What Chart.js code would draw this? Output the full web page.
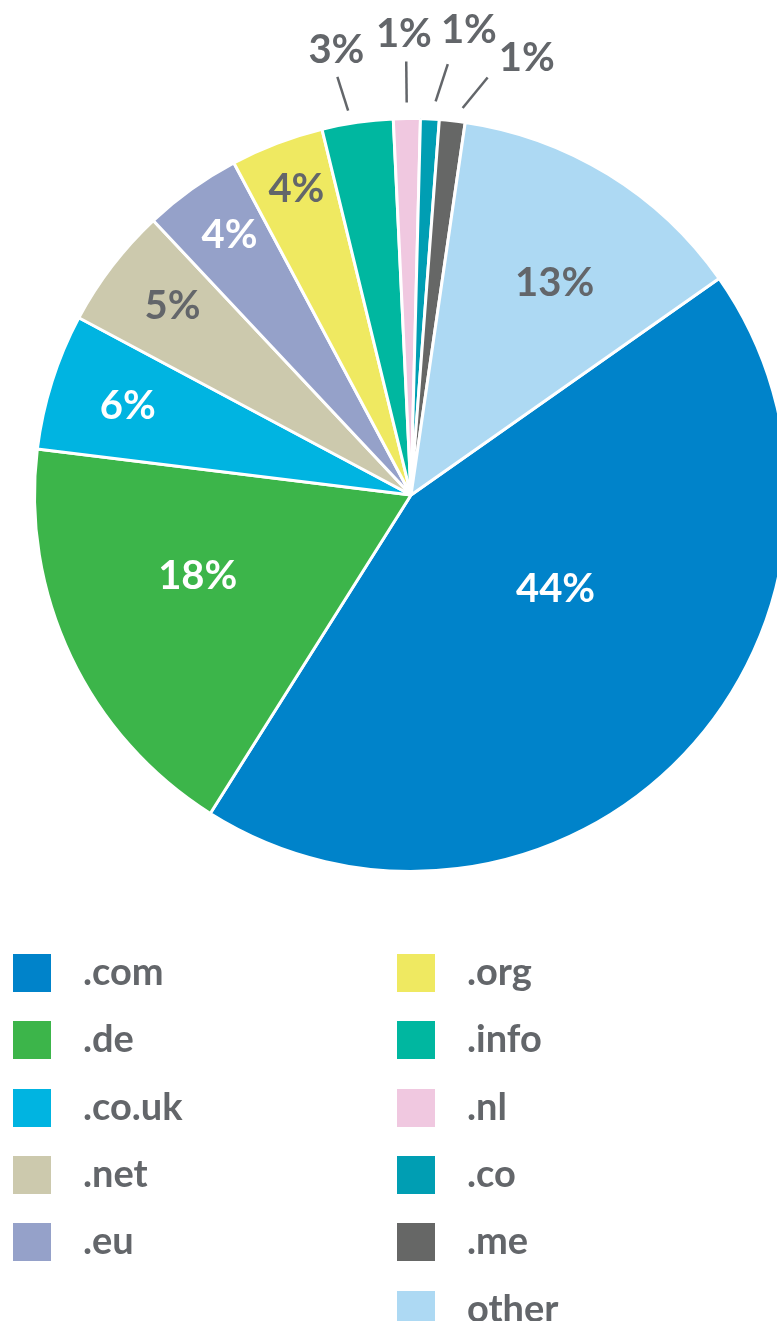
<!DOCTYPE html>
<html>
<head>
<meta charset="utf-8">
<script src="https://cdn.jsdelivr.net/npm/chart.js@4.4.1/dist/chart.umd.min.js"></script>
<style>
    html, body { margin: 0; padding: 0; background: #fff; width: 777px; height: 1321px; overflow: hidden; }
    #wrap { position: absolute; left: 0; top: 0; width: 822px; height: 990px; }
    #legend { position: absolute; left: 0; top: 0; width: 777px; height: 1321px; font-family: Lato, sans-serif; }
    .box { position: absolute; width: 38px; height: 38px; }
    .txt { position: absolute; font-size: 38px; font-weight: 700; color: #63666a; line-height: 38px; white-space: nowrap; }
</style>
</head>
<body>
<div id="wrap"><canvas id="chart"></canvas></div>
<div id="legend"></div>
<script>
const domains = ['.com', '.de', '.co.uk', '.net', '.eu', '.org', '.info', '.nl', '.co', '.me', 'other'];
// shares (labels show them rounded)
const shares = [43.7, 18.0, 5.85, 5.2, 4.2, 4.0, 3.05, 1.15, 0.8, 1.1, 12.95];
const colors = ['#0083ca', '#3cb54a', '#00b4e1', '#ccc9ad', '#95a1c9', '#efe961', '#00b7a0', '#f0c8e0', '#009eb3', '#666766', '#add9f3'];

const gray = '#63666a';

// where each percentage goes; "out" ones get a leader line
const placement = [
    { r: 0.456, da: -10.9, color: '#fff' },
    { r: 0.605, da: 4.8, color: '#fff' },
    { r: 0.79, da: 0.2, color: '#fff' },
    { r: 0.81, da: 1.1, color: gray },
    { r: 0.846, da: 0.9, color: '#fff' },
    { r: 0.87, da: 0.4, color: gray },
    { out: true, a1: -1.1, r1: 13, a2: -1.8, r2: 48, ta: -1.3, tr: 76 },
    { out: true, a1: 0, r1: 16, a2: 0, r2: 57, ta: -0.25, tr: 86 },
    { out: true, a1: 0.7, r1: 18, a2: 2, r2: 56, ta: 4.2, tr: 93 },
    { out: true, a1: 1.3, r1: 14, a2: 4.1, r2: 48, ta: 8.5, tr: 77 },
    { r: 0.684, da: 2.3, color: gray }
];

const sliceLabels = {
    id: 'sliceLabels',
    afterDatasetsDraw( chart, args, opts ){
        const ctx = chart.ctx;
        const meta = chart.getDatasetMeta( 0 );
        const rad = d => d * Math.PI / 180;
        ctx.save();
        ctx.font = `700 ${opts.size}px Lato, sans-serif`;
        ctx.textAlign = 'center';
        ctx.textBaseline = 'alphabetic';
        const shift = opts.size * 0.358;
        meta.data.forEach( function( arc, i ){
            const p = opts.place[i];
            const mid = ( arc.startAngle + arc.endAngle ) / 2;
            const R = arc.outerRadius;
            const text = Math.round( shares[i] ) + '%';
            if ( p.out ){
                const a1 = mid + rad( p.a1 ), a2 = mid + rad( p.a2 ), a3 = mid + rad( p.ta );
                ctx.strokeStyle = gray;
                ctx.lineWidth = 2.5;
                ctx.beginPath();
                ctx.moveTo( arc.x + Math.cos( a1 ) * ( R + p.r1 ), arc.y + Math.sin( a1 ) * ( R + p.r1 ) );
                ctx.lineTo( arc.x + Math.cos( a2 ) * ( R + p.r2 ), arc.y + Math.sin( a2 ) * ( R + p.r2 ) );
                ctx.stroke();
                ctx.fillStyle = gray;
                ctx.fillText( text, arc.x + Math.cos( a3 ) * ( R + p.tr ), arc.y + Math.sin( a3 ) * ( R + p.tr ) + shift );
            } else {
                const a = mid + rad( p.da );
                ctx.fillStyle = p.color;
                ctx.fillText( text, arc.x + Math.cos( a ) * R * p.r, arc.y + Math.sin( a ) * R * p.r + shift );
            }
        } );
        ctx.restore();
    }
};

const chart = new Chart( document.getElementById( 'chart' ), {
    type: 'pie',
    data: {
        labels: domains,
        datasets: [{
            data: shares,
            backgroundColor: colors,
            borderColor: '#fff',
            borderWidth: 3
        }]
    },
    options: {
        responsive: true,
        maintainAspectRatio: false,
        animation: false,
        rotation: 54.9,
        layout: { padding: { top: 117, bottom: 117, left: 33, right: 33 } },
        plugins: {
            legend: { display: false },
            tooltip: { enabled: false },
            sliceLabels: { size: 40, place: placement }
        }
    },
    plugins: [ sliceLabels ]
} );

// two-column legend built from the chart's own legend items
const legendEl = document.getElementById( 'legend' );
const items = Chart.overrides.pie.plugins.legend.labels.generateLabels( chart );
items.forEach( function( item, i ){
    const col = i < 5 ? 0 : 1;
    const row = col === 0 ? i : i - 5;
    const top = 954 + row * 67.3;
    const box = document.createElement( 'div' );
    box.className = 'box';
    box.style.left = ( col === 0 ? 13 : 397 ) + 'px';
    box.style.top = top + 'px';
    box.style.background = item.fillStyle;
    const txt = document.createElement( 'div' );
    txt.className = 'txt';
    txt.style.left = ( col === 0 ? 83 : 467 ) + 'px';
    txt.style.top = ( top - 3 ) + 'px';
    txt.textContent = item.text;
    legendEl.appendChild( box );
    legendEl.appendChild( txt );
} );
</script>
</body>
</html>
